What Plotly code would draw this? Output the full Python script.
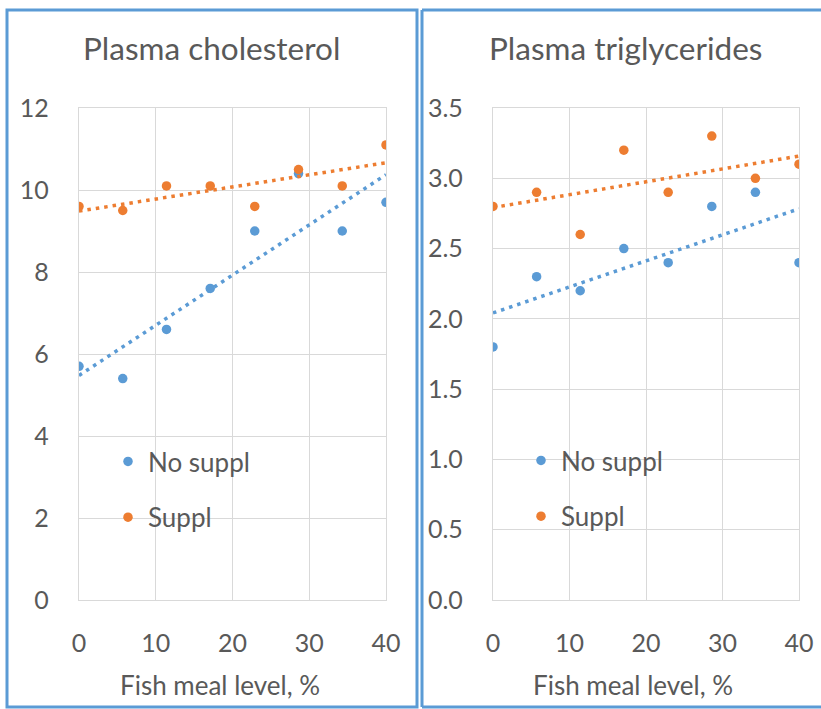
import numpy as np
import plotly.graph_objects as go

fish_meal = [0, 5.7, 11.4, 17.1, 22.9, 28.6, 34.3, 40]
chol_no_suppl = [5.7, 5.4, 6.6, 7.6, 9.0, 10.4, 9.0, 9.7]
chol_suppl = [9.6, 9.5, 10.1, 10.1, 9.6, 10.5, 10.1, 11.1]
trig_no_suppl = [1.8, 2.3, 2.2, 2.5, 2.4, 2.8, 2.9, 2.4]
trig_suppl = [2.8, 2.9, 2.6, 3.2, 2.9, 3.3, 3.0, 3.1]
series_names = ["No suppl", "Suppl"]
panel_titles = ["Plasma cholesterol", "Plasma triglycerides"]
x_title = "Fish meal level, %"
chol_ticks = [0, 2, 4, 6, 8, 10, 12]
trig_ticks = [0.0, 0.5, 1.0, 1.5, 2.0, 2.5, 3.0, 3.5]
x_ticks = [0, 10, 20, 30, 40]

W, H = 821, 709
BLUE = "#5B9BD5"
ORANGE = "#ED7D31"
TXT = "#595959"
GRID = "#D9D9D9"
FONT = "Lato"

def px_x(p):
    return p / W

def px_y(p):
    return 1 - p / H

fig = go.Figure()

panels = [
    dict(xa="x", ya="y", data=[chol_no_suppl, chol_suppl], legend="legend"),
    dict(xa="x2", ya="y2", data=[trig_no_suppl, trig_suppl], legend="legend2"),
]
colors = [BLUE, ORANGE]

for p in panels:
    for i, (vals, name) in enumerate(zip(p["data"], series_names)):
        fig.add_trace(go.Scatter(
            x=fish_meal, y=vals, mode="markers", name=name,
            marker=dict(color=colors[i], size=9.5),
            xaxis=p["xa"], yaxis=p["ya"], legend=p["legend"],
            legendgroup=p["legend"] + name, showlegend=True,
        ))
    for i, vals in enumerate(p["data"]):
        slope, inter = np.polyfit(fish_meal, vals, 1)
        xs = [min(fish_meal), max(fish_meal)]
        fig.add_trace(go.Scatter(
            x=xs, y=[inter + slope * v for v in xs], mode="lines",
            line=dict(color=colors[i], width=3.5, dash="3.5px,5px"),
            xaxis=p["xa"], yaxis=p["ya"], showlegend=False, hoverinfo="skip",
        ))

ydom = [px_y(600), px_y(108)]
common_x = dict(range=[0, 40], tickvals=x_ticks, showgrid=True, gridcolor=GRID, gridwidth=1.3,
                zeroline=False, showline=True, linecolor=GRID, linewidth=1.3, mirror=True,
                ticks="", tickfont=dict(size=25, color=TXT, family=FONT), ticklabelstandoff=21,
                automargin=False)
common_y = dict(showgrid=True, gridcolor=GRID, gridwidth=1.3, zeroline=False,
                showline=True, linecolor=GRID, linewidth=1.3, mirror=True, ticks="",
                tickfont=dict(size=25, color=TXT, family=FONT), ticklabelstandoff=24,
                automargin=False)

leg_common = dict(font=dict(size=26, color=TXT, family=FONT), bgcolor="rgba(0,0,0,0)",
                  tracegroupgap=19, xanchor="left", yanchor="top", itemclick=False)

fig.update_layout(
    width=W, height=H,
    margin=dict(l=0, r=0, t=0, b=0, pad=0, autoexpand=False),
    paper_bgcolor="white", plot_bgcolor="white",
    font=dict(family=FONT, color=TXT),
    xaxis=dict(domain=[px_x(79), px_x(386)], anchor="y", **common_x),
    yaxis=dict(domain=ydom, anchor="x", range=[0, 12], tickvals=chol_ticks, **common_y),
    xaxis2=dict(domain=[px_x(493), px_x(799)], anchor="y2", **common_x),
    yaxis2=dict(domain=ydom, anchor="x2", range=[0, 3.5], tickvals=trig_ticks,
                tickformat=".1f", **common_y),
    legend=dict(x=px_x(108), y=px_y(438), **leg_common),
    legend2=dict(x=px_x(521), y=px_y(437), **leg_common),
    showlegend=True,
)

# panel titles and axis titles
for title, cx in zip(panel_titles, [212, 625]):
    fig.add_annotation(text=title, x=px_x(cx), y=px_y(48), xref="paper", yref="paper",
                       showarrow=False, xanchor="center", yanchor="middle",
                       font=dict(size=31.5, color=TXT, family=FONT))
for cx in [220, 633]:
    fig.add_annotation(text=x_title, x=px_x(cx), y=px_y(685), xref="paper", yref="paper",
                       showarrow=False, xanchor="center", yanchor="middle",
                       font=dict(size=26, color=TXT, family=FONT))

# panel borders
bl = dict(color=BLUE, width=3)
fig.add_shape(type="rect", xref="paper", yref="paper",
              x0=px_x(7), x1=px_x(417), y0=px_y(707), y1=px_y(10), line=bl)
for (x0, y0, x1, y1) in [(422, 10, 821, 10), (422, 10, 422, 707), (422, 707, 821, 707)]:
    fig.add_shape(type="line", xref="paper", yref="paper",
                  x0=px_x(x0), x1=px_x(x1), y0=px_y(y0), y1=px_y(y1), line=bl)

fig.write_html("out.html", config={"displayModeBar": False},
               post_script="document.body.style.margin='0px';document.body.style.overflow='hidden';")
